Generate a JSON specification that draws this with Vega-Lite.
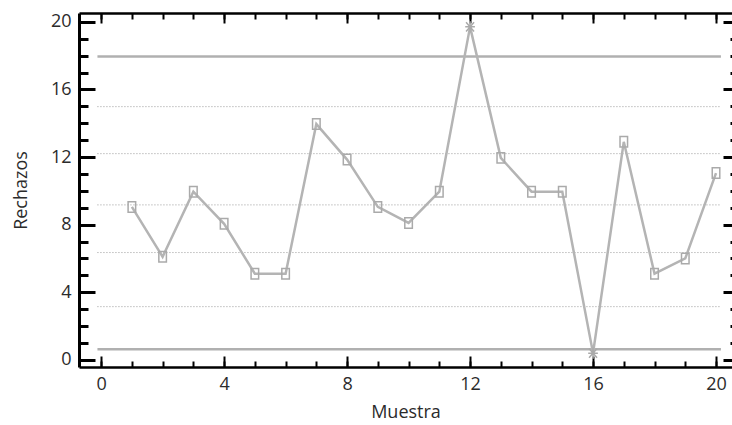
{
  "$schema": "https://vega.github.io/schema/vega-lite/v6.json",
  "width": 653,
  "height": 354,
  "autosize": {"type": "none"},
  "padding": {"left": 79, "top": 13, "right": 0, "bottom": 58},
  "config": {
    "view": {"stroke": null},
    "font": "Open Sans",
    "axis": {
      "grid": false,
      "labelFont": "Open Sans",
      "titleFont": "Open Sans",
      "labelFontSize": 18,
      "titleFontSize": 18,
      "labelColor": "#2b2b2b",
      "titleColor": "#2b2b2b",
      "titleFontWeight": "normal",
      "tickColor": "#000000",
      "domainColor": "#000000",
      "labelFlush": false
    }
  },
  "datasets": {
    "muestras": [
      {"muestra": 1, "rechazos": 9.05, "fuera": "no"},
      {"muestra": 2, "rechazos": 6.1, "fuera": "no"},
      {"muestra": 3, "rechazos": 9.95, "fuera": "no"},
      {"muestra": 4, "rechazos": 8.05, "fuera": "no"},
      {"muestra": 5, "rechazos": 5.1, "fuera": "no"},
      {"muestra": 6, "rechazos": 5.1, "fuera": "no"},
      {"muestra": 7, "rechazos": 13.95, "fuera": "no"},
      {"muestra": 8, "rechazos": 11.85, "fuera": "no"},
      {"muestra": 9, "rechazos": 9.05, "fuera": "no"},
      {"muestra": 10, "rechazos": 8.1, "fuera": "no"},
      {"muestra": 11, "rechazos": 9.95, "fuera": "no"},
      {"muestra": 12, "rechazos": 19.7, "fuera": "si"},
      {"muestra": 13, "rechazos": 11.95, "fuera": "no"},
      {"muestra": 14, "rechazos": 9.95, "fuera": "no"},
      {"muestra": 15, "rechazos": 9.95, "fuera": "no"},
      {"muestra": 16, "rechazos": 0.4, "fuera": "si"},
      {"muestra": 17, "rechazos": 12.9, "fuera": "no"},
      {"muestra": 18, "rechazos": 5.1, "fuera": "no"},
      {"muestra": 19, "rechazos": 6.0, "fuera": "no"},
      {"muestra": 20, "rechazos": 11.05, "fuera": "no"}
    ],
    "limites": [
      {"linea": "LSC", "nivel": 17.94},
      {"linea": "LIC", "nivel": 0.63}
    ],
    "zonas": [
      {"linea": "+2 sigma", "nivel": 14.98},
      {"linea": "+1 sigma", "nivel": 12.2},
      {"linea": "Central", "nivel": 9.17},
      {"linea": "-1 sigma", "nivel": 6.35},
      {"linea": "-2 sigma", "nivel": 3.15}
    ]
  },
  "resolve": {"axis": {"x": "independent", "y": "independent"}},
  "layer": [
    {
      "data": {"name": "zonas"},
      "mark": {"type": "rule", "color": "#9a9a9a", "strokeWidth": 1, "strokeDash": [1, 2]},
      "encoding": {
        "x": {"datum": -0.12, "type": "quantitative", "axis": null, "scale": {"domain": [-0.72, 20.52], "nice": false, "zero": false}},
        "x2": {"datum": 20.16},
        "y": {"field": "nivel", "type": "quantitative", "axis": null, "scale": {"domain": [-0.42, 20.52], "nice": false, "zero": false}}
      }
    },
    {
      "data": {"name": "limites"},
      "mark": {"type": "rule", "color": "#b0b0b0", "strokeWidth": 2.5},
      "encoding": {
        "x": {"datum": -0.12, "type": "quantitative",
          "axis": {"orient": "top", "values": [0,1,2,3,4,5,6,7,8,9,10,11,12,13,14,15,16,17,18,19,20], "tickSize": -6, "tickWidth": 2, "domain": false, "labels": false, "title": null}},
        "x2": {"datum": 20.16},
        "y": {"field": "nivel", "type": "quantitative",
          "axis": {"orient": "right", "offset": 7, "values": [0,1,2,3,4,5,6,7,8,9,10,11,12,13,14,15,16,17,18,19,20], "tickSize": -9, "tickWidth": 3, "domain": false, "labels": false, "title": null}}
      }
    },
    {
      "data": {"name": "muestras"},
      "mark": {"type": "line", "color": "#b4b4b4", "strokeWidth": 2.5},
      "encoding": {
        "x": {"field": "muestra", "type": "quantitative",
          "axis": {"orient": "bottom", "values": [0,4,8,12,16,20], "tickSize": -11, "tickWidth": 2, "domainWidth": 2.5, "labelPadding": 19, "title": "Muestra", "titlePadding": 10}},
        "y": {"field": "rechazos", "type": "quantitative",
          "axis": {"orient": "left", "values": [0,4,8,12,16,20], "tickSize": -16, "tickWidth": 3, "domainWidth": 3, "labelPadding": 24, "title": "Rechazos", "titlePadding": 20}}
      }
    },
    {
      "data": {"name": "muestras"},
      "transform": [{"filter": "datum.fuera === 'no'"}],
      "mark": {"type": "point", "shape": "M-0.72,-1L0.72,-1L0.72,1L-0.72,1Z", "size": 110, "filled": false, "stroke": "#aaaaaa", "strokeWidth": 1.5, "opacity": 1},
      "encoding": {
        "x": {"field": "muestra", "type": "quantitative",
          "axis": {"orient": "bottom", "values": [0,1,2,3,4,5,6,7,8,9,10,11,12,13,14,15,16,17,18,19,20], "tickSize": -6, "tickWidth": 2, "domain": false, "labels": false, "title": null}},
        "y": {"field": "rechazos", "type": "quantitative",
          "axis": {"orient": "left", "values": [0,1,2,3,4,5,6,7,8,9,10,11,12,13,14,15,16,17,18,19,20], "tickSize": -9, "tickWidth": 3, "domain": false, "labels": false, "title": null}}
      }
    },
    {
      "data": {"name": "muestras"},
      "transform": [{"filter": "datum.fuera === 'si'"}],
      "mark": {"type": "point", "shape": "M0,-1L0,1M-0.85,0L0.85,0M-0.7,-0.8L0.7,0.8M-0.7,0.8L0.7,-0.8", "size": 130, "filled": false, "stroke": "#aaaaaa", "strokeWidth": 1.5, "opacity": 1},
      "encoding": {
        "x": {"field": "muestra", "type": "quantitative",
          "axis": {"orient": "top", "values": [0,4,8,12,16,20], "tickSize": -10, "tickWidth": 2, "domainWidth": 2.5, "labels": false, "title": null}},
        "y": {"field": "rechazos", "type": "quantitative",
          "axis": {"orient": "right", "offset": 7, "values": [0,4,8,12,16,20], "tickSize": -16, "tickWidth": 3, "domainWidth": 3, "labels": false, "title": null}}
      }
    }
  ]
}
